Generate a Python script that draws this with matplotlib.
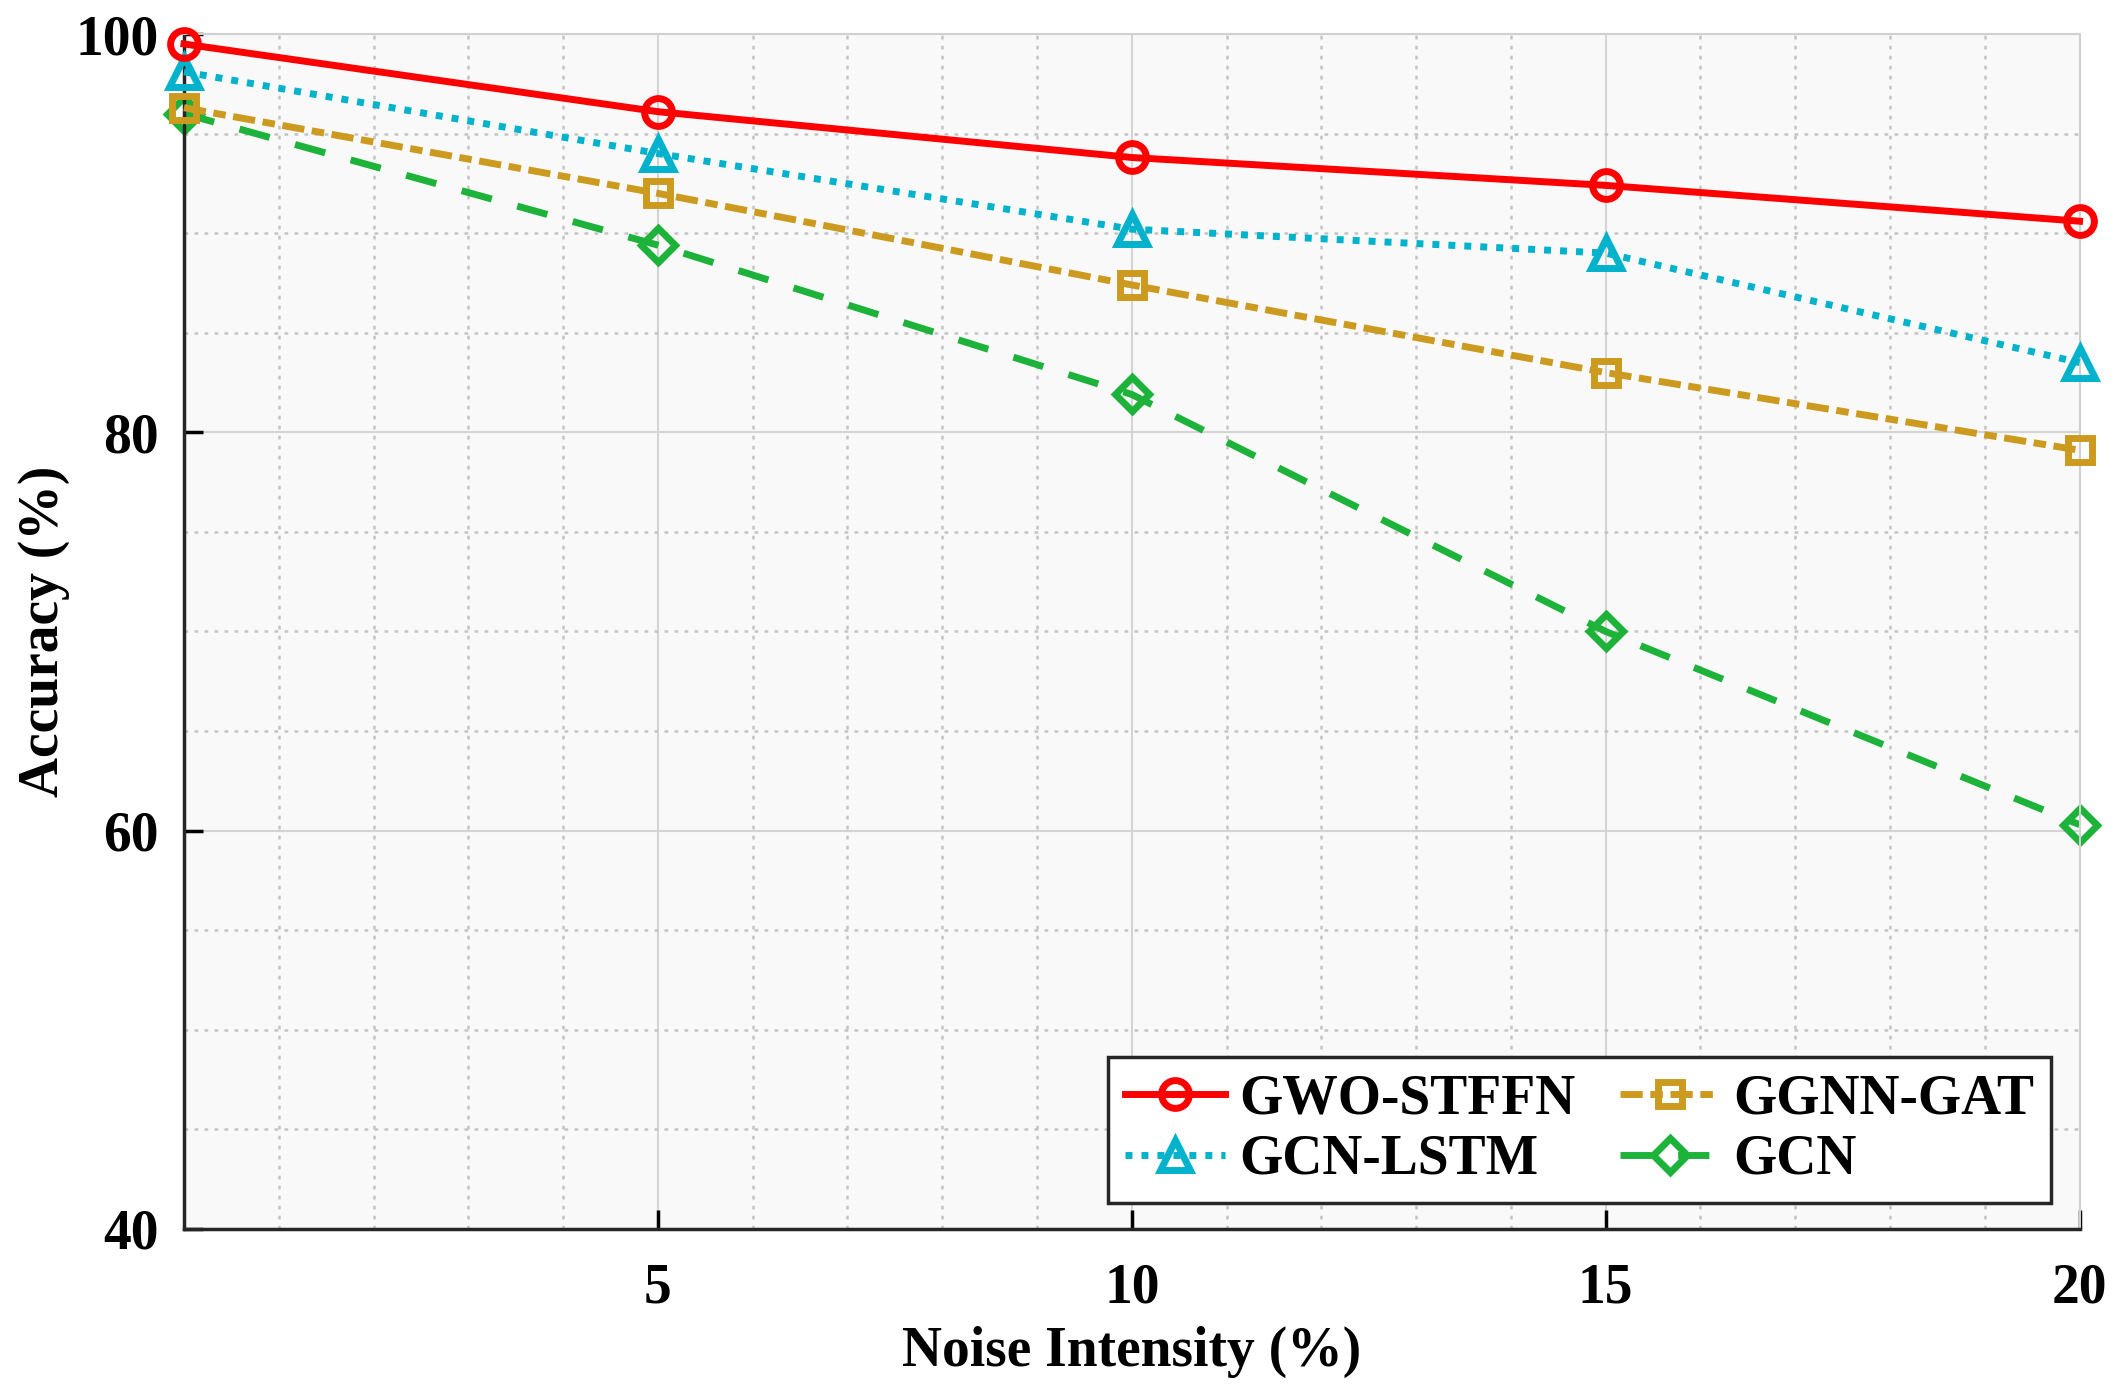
import numpy as np
import matplotlib.pyplot as plt
from matplotlib.ticker import MultipleLocator

plt.rcParams['font.family'] = ['Liberation Serif', 'DejaVu Serif']
plt.rcParams['font.weight'] = 'bold'

noise = [0, 5, 10, 15, 20]
gwo_stffn = [99.5, 96.1, 93.8, 92.4, 90.6]
gcn_lstm = [98.1, 94.0, 90.2, 89.0, 83.5]
ggnn_gat = [96.3, 92.0, 87.4, 83.0, 79.1]
gcn = [96.0, 89.4, 81.9, 70.0, 60.3]

fig = plt.figure(figsize=(21.22, 13.94), dpi=100)
ax = fig.add_axes([0.0867, 0.1184, 0.8933, 0.8572])
ax.set_facecolor('#f9f9f9')

lw = 5
ms = 20
mew = 5
ax.plot(noise, gwo_stffn, color='#ff0000', lw=lw, ls='-', marker='o', ms=ms,
        mew=mew, mfc='none', label='GWO-STFFN', zorder=5, clip_on=False)
ax.plot(noise, gcn_lstm, color='#00b2cc', lw=lw, ls=(0, (1, 1.3)), marker='^', ms=ms + 2,
        mew=mew, mfc='none', label='GCN-LSTM', zorder=4, clip_on=False)
ax.plot(noise, ggnn_gat, color='#cc9a1e', lw=lw, ls=(0, (3.2, 1.1, 1.8, 1.1)), marker='s', ms=ms - 3,
        mew=mew, mfc='none', label='GGNN-GAT', zorder=3, clip_on=False)
ax.plot(noise, gcn, color='#1db23a', lw=lw, ls=(0, (4.5, 3.8)), marker='D', ms=ms - 3,
        mew=mew, mfc='none', label='GCN', zorder=2, clip_on=False)

ax.set_xlim(0, 20)
ax.set_ylim(40, 100)
ax.set_xticks([5, 10, 15, 20])
ax.set_yticks([40, 60, 80, 100])
ax.xaxis.set_minor_locator(MultipleLocator(1))
ax.yaxis.set_minor_locator(MultipleLocator(5))

ax.grid(which='major', color='#d4d4d4', lw=1.5, ls='-')
ax.grid(which='minor', color='#c4c4c4', lw=1.8, ls=(0, (1.5, 2.5)))
ax.set_axisbelow(True)

ax.tick_params(which='major', direction='in', length=14, width=2.5, labelsize=40,
               pad=18, top=False, right=False)
ax.tick_params(which='minor', length=0)
ax.tick_params(axis='x', pad=24)
for s in ['left', 'bottom']:
    ax.spines[s].set_linewidth(2.5)
    ax.spines[s].set_color('#262626')
for s in ['top', 'right']:
    ax.spines[s].set_linewidth(1.5)
    ax.spines[s].set_color('#d0d0d0')

ax.set_xlabel('Noise Intensity (%)', fontsize=40, fontweight='bold', labelpad=8)
ax.set_ylabel('Accuracy (%)', fontsize=40, fontweight='bold', labelpad=4)

leg = ax.legend(ncol=2, loc='lower right', bbox_to_anchor=(0.985, 0.022),
                borderaxespad=0, fontsize=40,
                frameon=True, fancybox=False, edgecolor='#262626', framealpha=1,
                handlelength=1.8, handletextpad=0.25, columnspacing=0.8,
                borderpad=0.3, labelspacing=0.15)
leg.get_frame().set_linewidth(2.5)

fig.savefig('out.png', dpi=100)
